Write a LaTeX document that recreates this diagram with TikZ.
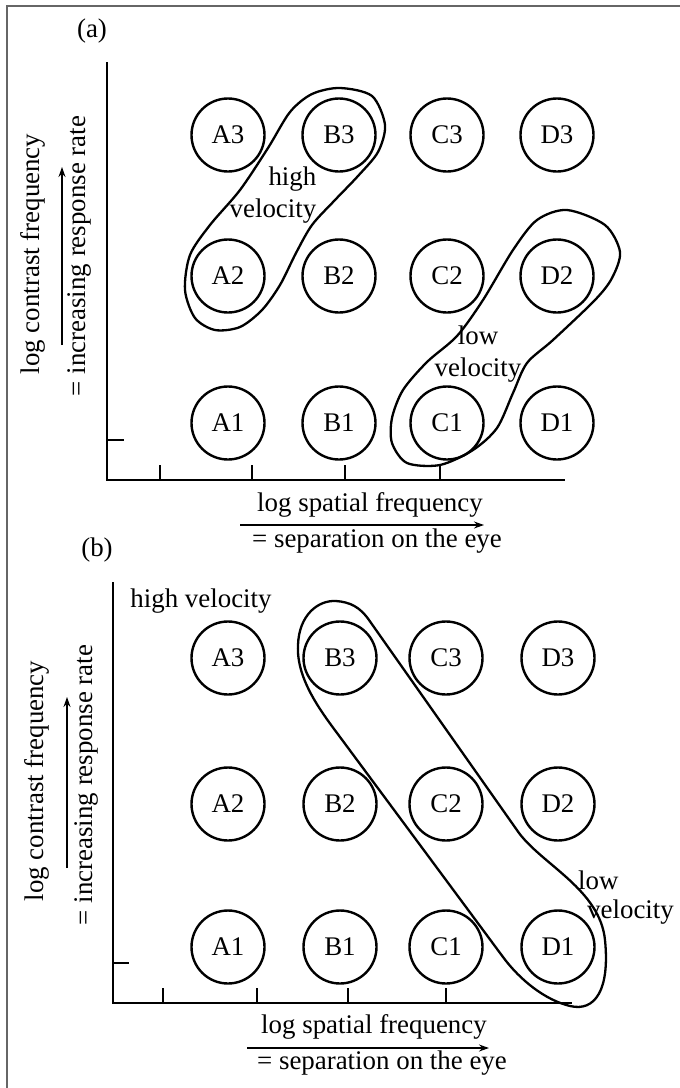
\documentclass[tikz,border=0pt]{standalone}
\usepackage{fontspec}
\setmainfont{Liberation Serif}
\usetikzlibrary{
    positioning,                      % right=of, below=of, etc.
    arrows.meta                       % Stealth tips
}
\tikzset{
    cell/.style={
        circle, draw, line width=2.4bp,
        minimum size=73bp, inner sep=0pt,
        font=\fontsize{27}{30}\selectfont
    },
    txt/.style={
        font=\fontsize{27}{32}\selectfont, inner sep=0pt
    },
    region/.style={
        line width=2.3bp
    },
    axis/.style={
        line width=1.7bp
    },
    tickmark/.style={
        line width=2.2bp
    },
    arrow/.style={
        -{Stealth[length=10bp,width=7bp]}, line width=1.3bp
    },
    frame/.style={
        draw=black!60, line width=2.2bp
    }
}

\begin{document}
\begin{tikzpicture}[x=1bp, y=-1bp]
    \useasboundingbox (0,0) rectangle (680,1088);
    \draw[frame] (7,1088) -- (7,6) -- (680,6);

    % --- Panel (a) ---
    \node[txt] (a-tag) at (92,31) {(a)};
    \foreach \col/\x in {A/228, B/339, C/447, D/557}
        \foreach \row/\y in {1/423, 2/276, 3/135}
            \node[cell] (a\col\row) at (\x,\y) {\col\row};

    % ejes
    \coordinate (a-top) at (107,62);
    \coordinate (a-orig) at (107,480);
    \coordinate (a-end) at (565,480);
    \draw[axis] (a-top) -- (a-orig) -- (a-end);
    \draw[tickmark] (a-orig |- 0,440) -- +(17,0);
    \foreach \tx in {160, 252, 345, 440}
        \draw[tickmark] (\tx,480) -- (\tx,465);

    % etiquetas de los ejes
    \node[txt, rotate=90] (a-ylab) at (33,254) {log contrast frequency};
    \node[txt, rotate=90] (a-ysub) at (79,256) {= increasing response rate};
    \coordinate (a-ya0) at (62,345);
    \coordinate (a-ya1) at (62,167);
    \draw[arrow] (a-ya0) -- (a-ya1);
    \node[txt] (a-xlab) at (370,505) {log spatial frequency};
    \node[txt] (a-xsub) at (377,541) {= separation on the eye};
    \coordinate (a-xa0) at (240,525);
    \coordinate (a-xa1) at (484,525);
    \draw[arrow] (a-xa0) -- (a-xa1);

    % agrupaciones de velocidad
    \draw[region] plot[smooth cycle] coordinates {
        (340,88) (372,96) (385,125) (378,152) (358,176) (335,200)
        (312,225) (296,253) (280,285) (262,310) (240,327) (215,330)
        (195,318) (185,290) (190,255) (210,225) (240,190) (268,148)
        (290,112) (312,94)};
    \node[txt, align=right] (a-high) at (273,195) {high\\velocity};

    \draw[region] plot[smooth cycle] coordinates {
        (567,210) (605,225) (620,252) (612,278) (595,300) (553,340)
        (527,363) (513,393) (497,428) (473,450) (440,465) (407,463)
        (392,443) (392,418) (403,390) (427,362) (457,336) (483,300)
        (513,250) (537,220)};
    \node[txt, align=center] (a-low) at (478,354) {low\\velocity};

    % --- Panel (b) ---
    \node[txt] (b-tag) at (97,550) {(b)};
    \foreach \col/\x in {A/228, B/340, C/446, D/558}
        \foreach \row/\y in {1/947, 2/804, 3/658}
            \node[cell] (b\col\row) at (\x,\y) {\col\row};

    % ejes
    \coordinate (b-top) at (113,582);
    \coordinate (b-orig) at (113,1003);
    \coordinate (b-end) at (572,1003);
    \draw[axis] (b-top) -- (b-orig) -- (b-end);
    \draw[tickmark] (b-orig |- 0,963) -- +(16,0);
    \foreach \tx in {163, 257, 348, 446}
        \draw[tickmark] (\tx,1003) -- (\tx,988);

    % etiquetas de los ejes
    \node[txt, rotate=90] (b-ylab) at (37,781) {log contrast frequency};
    \node[txt, rotate=90] (b-ysub) at (86,785) {= increasing response rate};
    \coordinate (b-ya0) at (67,868);
    \coordinate (b-ya1) at (67,697);
    \draw[arrow] (b-ya0) -- (b-ya1);
    \node[txt] (b-xlab) at (374,1027) {log spatial frequency};
    \node[txt] (b-xsub) at (382,1063) {= separation on the eye};
    \coordinate (b-xa0) at (247,1048);
    \coordinate (b-xa1) at (489,1048);
    \draw[arrow] (b-xa0) -- (b-xa1);

    \node[txt] (b-high) at (201,601) {high velocity};

    % banda diagonal B3 -- D1
    \draw[region] (369,620) -- (519,833)
        .. controls (543,865) and (600,890) .. (605,940)
        .. controls (610,990) and (595,1012) .. (570,1006)
        .. controls (545,1000) and (520,980) .. (503,957)
        -- (340,737)
        .. controls (323,714) and (296,680) .. (298,645)
        .. controls (299,615) and (318,600) .. (336,601)
        .. controls (350,602) and (360,607) .. (369,620) -- cycle;
    \node[txt, anchor=base west] (b-low) at (578,889) {low};
    \node[txt, anchor=base west] (b-vel) at (587,918) {velocity};
\end{tikzpicture}
\end{document}
